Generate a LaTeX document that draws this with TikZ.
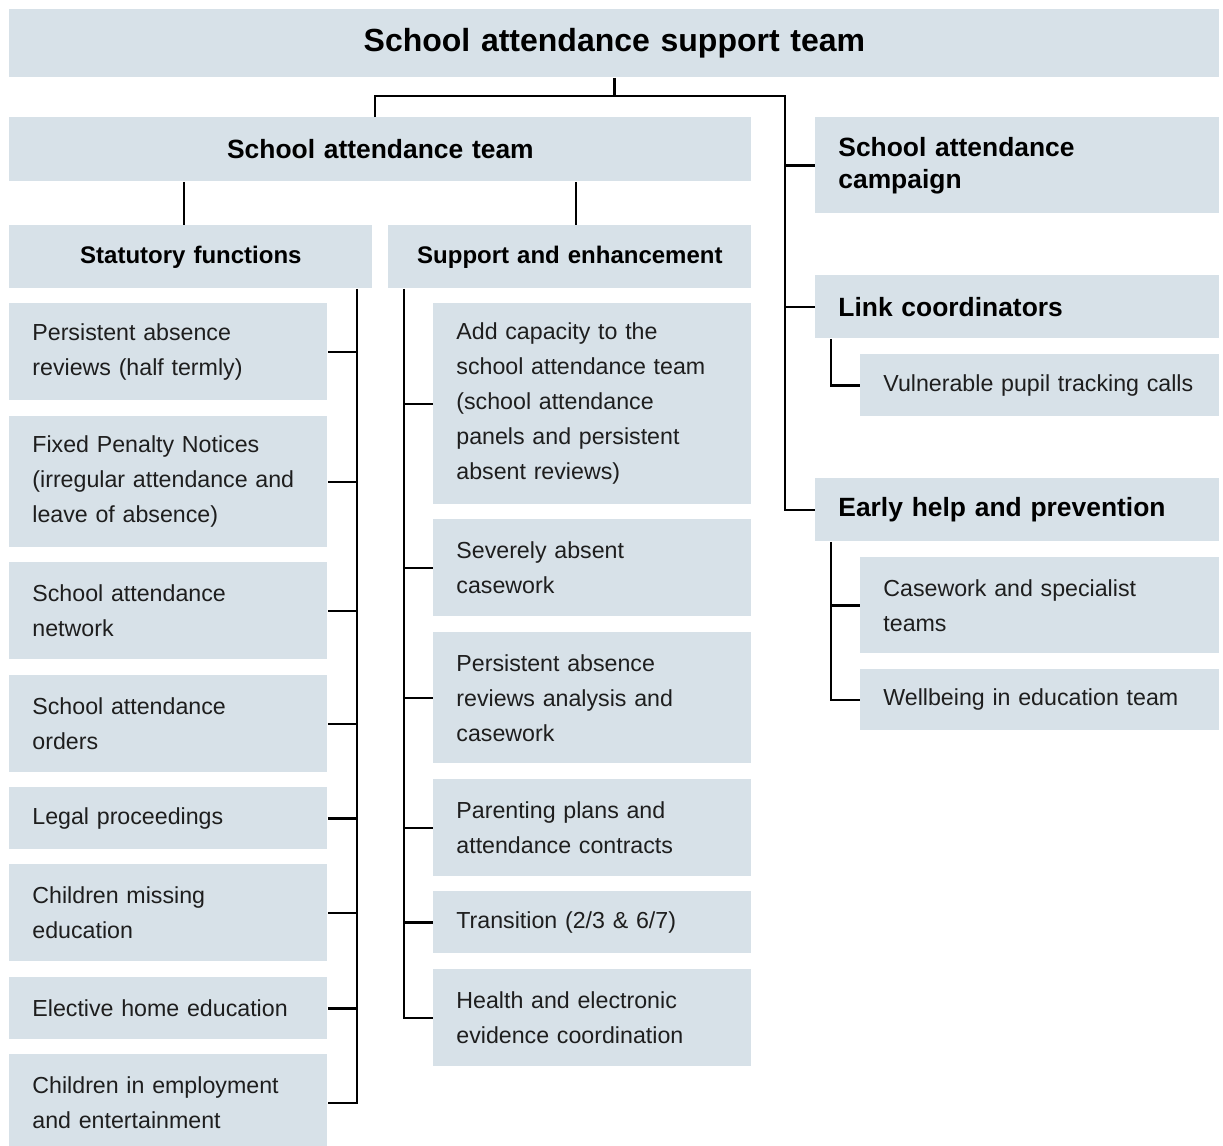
\documentclass[tikz,border=0pt]{standalone}
\usepackage{fontspec}
\setmainfont{Liberation Sans}
\usepackage{xcolor}
\definecolor{bleugris}{RGB}{215, 225, 232}
\definecolor{encre}{RGB}{30, 30, 30}

\tikzset{
  boite/.style={fill=bleugris, anchor=north west, inner xsep=11.5pt, inner ysep=0pt,
                align=left, text=encre, font=\fontsize{11.6}{17.5}\selectfont},
  entete/.style={boite, align=center, text=black, font=\fontsize{16}{19}\selectfont\bfseries},
  chef/.style={boite, text=black, font=\fontsize{13.2}{16}\selectfont\bfseries},
  chefc/.style={chef, align=center},
  sous/.style={boite, align=center, text=black, font=\fontsize{12}{14}\selectfont\bfseries},
  lien/.style={draw=black, line width=1.1pt},
}

% [style]{x1}{y1}{x2}{y2}{name}{text}
\newcommand{\caisse}[7][boite]{%
  \pgfmathsetmacro\bw{(#4-#2)*0.5}%
  \pgfmathsetmacro\bh{(#5-#3)*0.5}%
  \pgfmathsetmacro\tw{\bw-23}%
  \node[#1, minimum width=\bw pt, minimum height=\bh pt, text width=\tw pt] (#6) at (#2,#3) {#7};}

\begin{document}
\begin{tikzpicture}[x=0.5pt, y=-0.5pt]
  \useasboundingbox (0,0) rectangle (1223,1146);

  % top levels
  \caisse[entete]{9}{9}{1219}{77}{titre}{School attendance support team}
  \caisse[chefc]{9}{117}{751}{181}{sat}{School attendance team}
  \caisse[chef]{815}{117}{1219}{213}{campagne}{School attendance\\campaign}
  \caisse[chef]{815}{275}{1219}{338}{liens}{Link coordinators}
  \caisse[chef]{815}{478}{1219}{541}{precoce}{Early help and prevention}
  \caisse[sous]{9}{225}{372}{288}{stat}{Statutory functions}
  \caisse[sous]{388}{225}{751}{288}{sup}{Support and enhancement}

  % statutory functions
  \caisse{9}{303}{327}{400}{s1}{Persistent absence\\reviews (half termly)}
  \caisse{9}{416}{327}{547}{s2}{Fixed Penalty Notices\\(irregular attendance and\\leave of absence)}
  \caisse{9}{562}{327}{659}{s3}{School attendance\\network}
  \caisse{9}{675}{327}{772}{s4}{School attendance\\orders}
  \caisse{9}{787}{327}{849}{s5}{Legal proceedings}
  \caisse{9}{864}{327}{961}{s6}{Children missing\\education}
  \caisse{9}{977}{327}{1039}{s7}{Elective home education}
  \caisse{9}{1054}{327}{1151}{s8}{Children in employment\\and entertainment}

  % support and enhancement
  \caisse{433}{303}{751}{504}{e1}{Add capacity to the\\school attendance team\\(school attendance\\panels and persistent\\absent reviews)}
  \caisse{433}{519}{751}{616}{e2}{Severely absent\\casework}
  \caisse{433}{632}{751}{763}{e3}{Persistent absence\\reviews analysis and\\casework}
  \caisse{433}{779}{751}{876}{e4}{Parenting plans and\\attendance contracts}
  \caisse{433}{891}{751}{953}{e5}{Transition (2/3 \& 6/7)}
  \caisse{433}{969}{751}{1066}{e6}{Health and electronic\\evidence coordination}

  % right column
  \caisse{860}{354}{1219}{416}{vuln}{Vulnerable pupil tracking calls}
  \caisse{860}{557}{1219}{653}{cas}{Casework and specialist\\teams}
  \caisse{860}{669}{1219}{730}{bien}{Wellbeing in education team}

  % connectors
  \coordinate (noeud) at (titre.south |- 0,96);
  \coordinate (tronc) at (785,96);
  \draw[lien] (titre.south) -- (noeud);
  \draw[lien] (sat.north -| 375,0) |- (tronc) |- (precoce.west);
  \draw[lien] (tronc |- campagne.west) -- (campagne.west);
  \draw[lien] (tronc |- liens.west) -- (liens.west);
  \draw[lien] (sat.south -| 184,0) -- (stat.north -| 184,0);
  \draw[lien] (sat.south -| 576,0) -- (sup.north -| 576,0);

  \draw[lien] (stat.south -| 357,0) |- (s8.east);
  \foreach \n in {s1,s2,s3,s4,s5,s6,s7}
    \draw[lien] (\n.east) -- (\n.east -| 357,0);

  \draw[lien] (sup.south -| 404,0) |- (e6.west);
  \foreach \n in {e1,e2,e3,e4,e5}
    \draw[lien] (\n.west -| 404,0) -- (\n.west);

  \draw[lien] (liens.south -| 831,0) |- (vuln.west);
  \draw[lien] (precoce.south -| 831,0) |- (bien.west);
  \draw[lien] (cas.west -| 831,0) -- (cas.west);
\end{tikzpicture}
\end{document}
